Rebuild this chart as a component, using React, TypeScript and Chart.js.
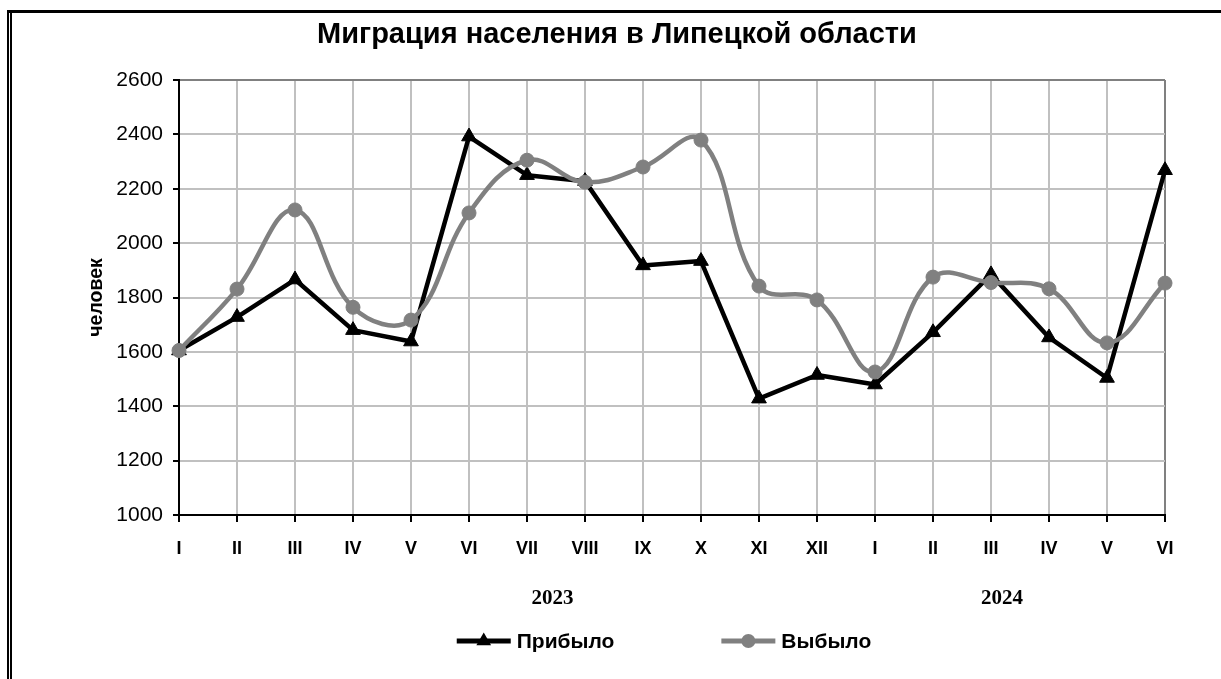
import React, { useEffect, useRef } from 'react';
import { Chart, registerables } from 'chart.js';

Chart.register(...registerables);

// ---- data ----
const months = ['I', 'II', 'III', 'IV', 'V', 'VI', 'VII', 'VIII', 'IX', 'X', 'XI', 'XII', 'I', 'II', 'III', 'IV', 'V', 'VI'];
const arrived = [1605, 1728, 1866, 1680, 1638, 2392, 2250, 2228, 1918, 1934, 1428, 1515, 1480, 1672, 1885, 1653, 1504, 2268];
const departed = [1605, 1831, 2122, 1764, 1717, 2111, 2305, 2224, 2280, 2379, 1842, 1791, 1526, 1875, 1855, 1832, 1633, 1853];
const seriesNames = ['Прибыло', 'Выбыло'];
const yearLabels = ['2023', '2024'];
const yearLabelPos = [6.44, 14.19];
const yMin = 1000;
const yMax = 2600;
const yStep = 200;
const titleText = 'Миграция населения в Липецкой области';
const yAxisTitle = 'человек';

// ---- layout / style ----
const W = 1221;
const H = 679;
const SANS = '"Liberation Sans", Arial, sans-serif';
const SERIF = '"Liberation Serif", "Times New Roman", serif';
const GRID = '#c0c0c0';
const FRAME_GREY = '#808080';

const LEGEND_LINE = 54;
const LEGEND_GAP = 6;
const LEGEND_ITEM_GAP = 107;
const LEGEND_FONT = 21;
const LEGEND_DY = 126;
const LEGEND_DX = -8;

const legendPlugin = {
  id: 'lineLegend',
  afterDraw(chart: any) {
    const { ctx, chartArea } = chart;
    const ds = chart.data.datasets;
    ctx.save();
    ctx.font = `bold ${LEGEND_FONT}px ${SANS}`;
    const widths = ds.map((d: any) => ctx.measureText(d.label).width);
    const total =
      widths.reduce((s: number, w: number) => s + LEGEND_LINE + LEGEND_GAP + w, 0) +
      LEGEND_ITEM_GAP * (ds.length - 1);
    let x = (chartArea.left + chartArea.right) / 2 + LEGEND_DX - total / 2;
    const y = chartArea.bottom + LEGEND_DY;
    ds.forEach((d: any, i: number) => {
      ctx.strokeStyle = d.borderColor;
      ctx.lineWidth = d.borderWidth + 0.5;
      ctx.lineCap = 'butt';
      ctx.beginPath();
      ctx.moveTo(x, y);
      ctx.lineTo(x + LEGEND_LINE, y);
      ctx.stroke();
      const cx = x + LEGEND_LINE / 2;
      const r = d.pointRadius;
      ctx.fillStyle = d.pointBackgroundColor;
      ctx.beginPath();
      if (d.pointStyle === 'triangle') {
        let rad = 0;
        const step = (2 * Math.PI) / 3;
        ctx.moveTo(cx + Math.sin(rad) * r, y - Math.cos(rad) * r);
        rad += step;
        ctx.lineTo(cx + Math.sin(rad) * r, y - Math.cos(rad) * r);
        rad += step;
        ctx.lineTo(cx + Math.sin(rad) * r, y - Math.cos(rad) * r);
        ctx.closePath();
      } else {
        ctx.arc(cx, y, r, 0, Math.PI * 2);
      }
      ctx.fill();
      ctx.fillStyle = '#000';
      ctx.textBaseline = 'middle';
      ctx.textAlign = 'left';
      ctx.fillText(d.label, x + LEGEND_LINE + LEGEND_GAP, y + 1);
      x += LEGEND_LINE + LEGEND_GAP + widths[i] + LEGEND_ITEM_GAP;
    });
    ctx.restore();
  },
};

const whiteBg = {
  id: 'whiteBg',
  beforeDraw(chart: any) {
    const { ctx, width, height } = chart;
    ctx.save();
    ctx.fillStyle = '#fff';
    ctx.fillRect(0, 0, width, height);
    ctx.restore();
  },
};

export default function App() {
  const ref = useRef<HTMLCanvasElement | null>(null);

  useEffect(() => {
    if (!ref.current) return;
    const chart = new Chart(ref.current, {
      type: 'line',
      data: {
        labels: months,
        datasets: [
          {
            label: seriesNames[0],
            data: arrived,
            borderColor: '#000',
            backgroundColor: '#000',
            borderWidth: 4.5,
            borderJoinStyle: 'round',
            tension: 0,
            pointStyle: 'triangle',
            pointRadius: 8.5,
            pointBackgroundColor: '#000',
            pointBorderColor: '#000',
            pointBorderWidth: 1,
            order: 1,
            clip: false,
            xAxisID: 'x',
            yAxisID: 'y',
          } as any,
          {
            label: seriesNames[1],
            data: departed,
            borderColor: FRAME_GREY,
            backgroundColor: FRAME_GREY,
            borderWidth: 4.5,
            borderJoinStyle: 'round',
            tension: 0.4,
            pointStyle: 'circle',
            pointRadius: 7,
            pointBackgroundColor: FRAME_GREY,
            pointBorderColor: FRAME_GREY,
            pointBorderWidth: 1,
            order: 0,
            clip: false,
            xAxisID: 'x',
            yAxisID: 'y',
          } as any,
        ],
      },
      options: {
        responsive: false,
        animation: false,
        devicePixelRatio: 1,
        layout: { padding: { left: 13, right: 0, top: 0, bottom: 64 } },
        plugins: {
          legend: { display: false },
          tooltip: { enabled: false },
          title: {
            display: true,
            text: titleText,
            color: '#000',
            font: { family: SANS, size: 29, weight: 'bold', lineHeight: 1.2 },
            padding: { top: 17.6, bottom: 27.6 },
          },
        },
        scales: {
          x: {
            type: 'category',
            position: 'bottom',
            offset: false,
            grid: {
              color: (c: any) => (c.index === months.length - 1 ? FRAME_GREY : GRID),
              lineWidth: 2,
              tickLength: 7,
              tickColor: '#000',
              tickWidth: 2,
            },
            border: { color: '#000', width: 2 },
            ticks: {
              color: '#000',
              font: { family: SANS, size: 18, weight: 'bold' },
              padding: 16,
              maxRotation: 0,
              autoSkip: false,
            },
            afterFit: (s: any) => {
              s.height = 50;
            },
          },
          years: {
            type: 'linear',
            position: 'bottom',
            min: 0,
            max: months.length - 1,
            grid: { display: false, drawTicks: false },
            border: { display: false },
            ticks: {
              color: '#000',
              font: { family: SERIF, size: 21, weight: 'bold' },
              padding: 21,
              autoSkip: false,
              maxRotation: 0,
              callback: (_v: any, i: number) => yearLabels[i] ?? '',
            },
            afterBuildTicks: (s: any) => {
              s.ticks = yearLabelPos.map((v) => ({ value: v }));
            },
            afterFit: (s: any) => {
              s.height = 50;
            },
          },
          y: {
            type: 'linear',
            position: 'left',
            min: yMin,
            max: yMax,
            ticks: {
              stepSize: yStep,
              color: '#000',
              font: { family: SANS, size: 21 },
              padding: 10,
              callback: (v: any) => String(v),
            },
            grid: {
              color: (c: any) => (c.tick && c.tick.value === yMax ? FRAME_GREY : GRID),
              lineWidth: 2,
              tickLength: 6,
              tickColor: '#000',
              tickWidth: 2,
            },
            border: { color: '#000', width: 2 },
            title: {
              display: true,
              text: yAxisTitle,
              color: '#000',
              font: { family: SANS, size: 19.5, weight: 'bold' },
              padding: { top: 72, bottom: 0 },
            },
            afterFit: (s: any) => {
              s.width = 166;
            },
          },
          yR: {
            type: 'linear',
            position: 'right',
            display: true,
            grid: { display: false, drawTicks: false },
            border: { display: false },
            ticks: { display: false },
            afterFit: (s: any) => {
              s.width = 56;
            },
          },
        },
      } as any,
      plugins: [whiteBg, legendPlugin],
    });
    return () => chart.destroy();
  }, []);

  return (
    <div style={{ position: 'absolute', left: 0, top: 0, width: W, height: H, background: '#fff', overflow: 'hidden' }}>
      <canvas ref={ref} width={W} height={H} style={{ position: 'absolute', left: 0, top: 0, width: W, height: H }} />
      <div
        style={{
          position: 'absolute',
          left: 7,
          top: 10,
          right: 0,
          bottom: 0,
          borderLeft: '2px solid #000',
          borderTop: '3px solid #000',
        }}
      />
      <div style={{ position: 'absolute', left: 10, top: 13, width: 2, bottom: 0, background: '#000' }} />
    </div>
  );
}
